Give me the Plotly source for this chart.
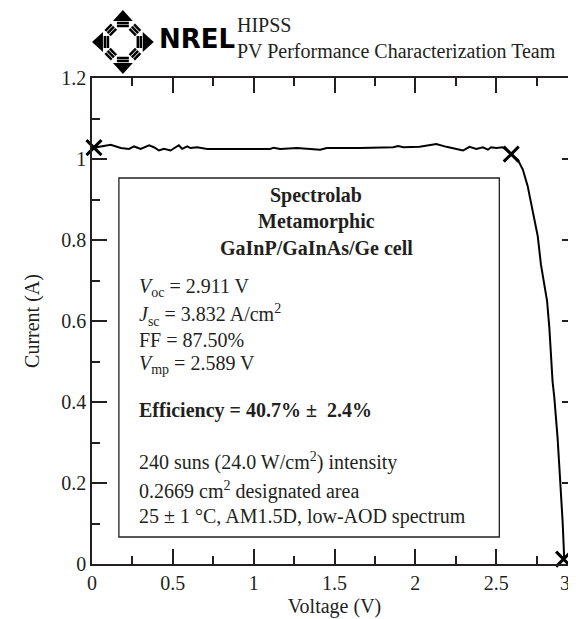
import plotly.graph_objects as go

# ---- data ----
voltage = [0.01, 0.054, 0.116, 0.178, 0.229, 0.260, 0.301, 0.353, 0.383, 0.414, 0.445, 0.486,
           0.517, 0.537, 0.558, 0.589, 0.609, 0.650, 0.712, 0.835, 1.102, 1.123, 1.164, 1.267,
           1.370, 1.411, 1.452, 1.657, 1.863, 1.894, 1.925, 2.027, 2.130, 2.192, 2.295, 2.335,
           2.377, 2.418, 2.449, 2.469, 2.500, 2.541, 2.593, 2.634, 2.665, 2.695, 2.716, 2.736,
           2.757, 2.777, 2.798, 2.815, 2.829, 2.839, 2.849, 2.859, 2.870, 2.880, 2.890, 2.901,
           2.911, 2.917, 2.921]
current = [1.028, 1.031, 1.035, 1.027, 1.025, 1.031, 1.025, 1.034, 1.029, 1.021, 1.025, 1.021,
           1.029, 1.034, 1.025, 1.031, 1.027, 1.029, 1.025, 1.025, 1.025, 1.028, 1.025, 1.027,
           1.025, 1.023, 1.027, 1.027, 1.029, 1.032, 1.029, 1.030, 1.037, 1.030, 1.021, 1.030,
           1.025, 1.029, 1.023, 1.029, 1.027, 1.029, 1.012, 0.998, 0.974, 0.933, 0.891, 0.854,
           0.810, 0.739, 0.690, 0.649, 0.583, 0.509, 0.450, 0.414, 0.369, 0.311, 0.245, 0.180,
           0.105, 0.050, 0.012]
mark_v = [0.012, 2.593, 2.917]   # Isc, max power, Voc points
mark_i = [1.028, 1.012, 0.012]

x_ticks = [0, 0.5, 1, 1.5, 2, 2.5, 3]
x_ticklabels = ["0", "0.5", "1", "1.5", "2", "2.5", ""]
x_last_label = "3"
y_ticks = [0, 0.2, 0.4, 0.6, 0.8, 1.0, 1.2]
y_ticklabels = ["0", "0.2", "0.4", "0.6", "0.8", "1", "1.2"]

title_lines = ["Spectrolab", "Metamorphic", "GaInP/GaInAs/Ge cell"]
info_lines = [
    "<i>V</i><sub>oc</sub> = 2.911 V",
    "<i>J</i><sub>sc</sub> = 3.832 A/cm<sup>2</sup>",
    "FF = 87.50%",
    "<i>V</i><sub>mp</sub> = 2.589 V",
    "<b>Efficiency = 40.7% ±  2.4%</b>",
    "240 suns (24.0 W/cm<sup>2</sup>) intensity",
    "0.2669 cm<sup>2</sup> designated area",
    "25 ± 1 °C, AM1.5D, low-AOD spectrum",
]
header_lines = ["HIPSS", "PV Performance Characterization Team"]

# ---- layout geometry (pixels) ----
W, H = 576, 619
ML, MR, MT, MB = 84, 5, 70, 63
PW, PH = W - ML - MR, H - MT - MB
FONT = "Liberation Serif"
INK = "#231f20"
FS = 20


def px(x):
    return (x - ML) / PW


def py(y):
    return (H - MB - y) / PH


fig = go.Figure()
fig.add_trace(go.Scatter(x=voltage, y=current, mode="lines",
                         line=dict(color="black", width=2), showlegend=False))
fig.add_trace(go.Scatter(x=mark_v, y=mark_i, mode="markers",
                         marker=dict(symbol="x-thin", size=15,
                                     line=dict(color="black", width=3)),
                         showlegend=False, cliponaxis=False))

axis_common = dict(showline=True, linecolor=INK, linewidth=1.5, mirror="ticks",
                   ticks="inside", ticklen=15, tickwidth=1.5, tickcolor=INK,
                   showgrid=False, zeroline=False,
                   tickfont=dict(family=FONT, size=FS, color=INK),
                   title_font=dict(family=FONT, size=FS, color=INK))

fig.update_xaxes(range=[0, 3], tickvals=x_ticks, ticktext=x_ticklabels,
                 title_text="Voltage (V)", title_standoff=6,
                 minor=dict(ticks="inside", ticklen=8, tickwidth=1.5, tickcolor=INK, dtick=0.25),
                 **axis_common)
fig.update_yaxes(range=[0, 1.2], tickvals=y_ticks, ticktext=y_ticklabels,
                 title_text="Current (A)", title_standoff=16,
                 minor=dict(ticks="inside", ticklen=8, tickwidth=1.5, tickcolor=INK, dtick=0.1),
                 **axis_common)

annotations = []
# last x tick label, pulled inward as in the reference
annotations.append(dict(x=px(559), y=py(575), xref="paper", yref="paper", text=x_last_label,
                        showarrow=False, xanchor="center", yanchor="middle",
                        font=dict(family=FONT, size=FS, color=INK)))
title_y = [187, 213, 240]
for t, yy in zip(title_lines, title_y):
    annotations.append(dict(x=px(309), y=py(yy), xref="paper", yref="paper",
                            text="<b>" + t + "</b>", showarrow=False,
                            xanchor="center", yanchor="middle",
                            font=dict(family=FONT, size=FS, color=INK)))
info_y = [279, 307, 332, 356, 402, 453, 482, 509]
for t, yy in zip(info_lines, info_y):
    annotations.append(dict(x=px(129), y=py(yy), xref="paper", yref="paper",
                            text=t, showarrow=False, xanchor="left", yanchor="middle",
                            font=dict(family=FONT, size=FS, color=INK)))

# header
annotations.append(dict(x=px(149), y=py(31), xref="paper", yref="paper", text="<b>NREL</b>",
                        showarrow=False, xanchor="left", yanchor="middle",
                        font=dict(family="DejaVu Sans", size=26, color="black")))
annotations.append(dict(x=px(228), y=py(30), xref="paper", yref="paper",
                        text="<br>".join(header_lines), align="left",
                        showarrow=False, xanchor="left", yanchor="middle",
                        font=dict(family=FONT, size=20, color=INK)))

shapes = [dict(type="rect", xref="paper", yref="paper",
               x0=px(111), x1=px(493), y0=py(529), y1=py(170),
               line=dict(color=INK, width=1.3), fillcolor="rgba(0,0,0,0)")]


def tri(pts):
    d = "M " + " L ".join(f"{px(a):.4f},{py(b):.4f}" for a, b in pts) + " Z"
    return dict(type="path", xref="paper", yref="paper", path=d,
                fillcolor="black", line=dict(color="black", width=0))


def bar(x0, y0, x1, y1):
    return dict(type="line", xref="paper", yref="paper", x0=px(x0), y0=py(y0),
                x1=px(x1), y1=py(y1), line=dict(color="black", width=2.5))


cx, cy = 115, 34
# arrowheads
shapes.append(tri([(cx, 2), (cx - 10, 13), (cx + 10, 13)]))
shapes.append(tri([(cx, 66), (cx - 10, 55), (cx + 10, 55)]))
shapes.append(tri([(84, cy), (95, cy - 10), (95, cy + 10)]))
shapes.append(tri([(146, cy), (135, cy - 10), (135, cy + 10)]))
# shafts as stripes
for k in range(2):
    shapes.append(bar(cx - 6, 15 + 3 * k, cx + 6, 15 + 3 * k))
    shapes.append(bar(cx - 6, 53 - 3 * k, cx + 6, 53 - 3 * k))
    shapes.append(bar(97 + 3 * k, cy - 6, 97 + 3 * k, cy + 6))
    shapes.append(bar(133 - 3 * k, cy - 6, 133 - 3 * k, cy + 6))
# diagonal stripe groups
for sx, sy in [(-1, -1), (1, -1), (-1, 1), (1, 1)]:
    for k in range(3):
        r = 14 + 3.2 * k
        mx, my = cx + sx * r * 0.707, cy + sy * r * 0.707
        dx, dy = 4.5 * 0.707, 4.5 * 0.707
        shapes.append(bar(mx - dx * sx, my + dy * sy, mx + dx * sx, my - dy * sy))

fig.update_layout(width=W, height=H, autosize=False,
                  margin=dict(l=ML, r=MR, t=MT, b=MB),
                  plot_bgcolor="white", paper_bgcolor="white",
                  font=dict(family=FONT, color=INK),
                  annotations=annotations, shapes=shapes)

fig.write_html("out.html")
